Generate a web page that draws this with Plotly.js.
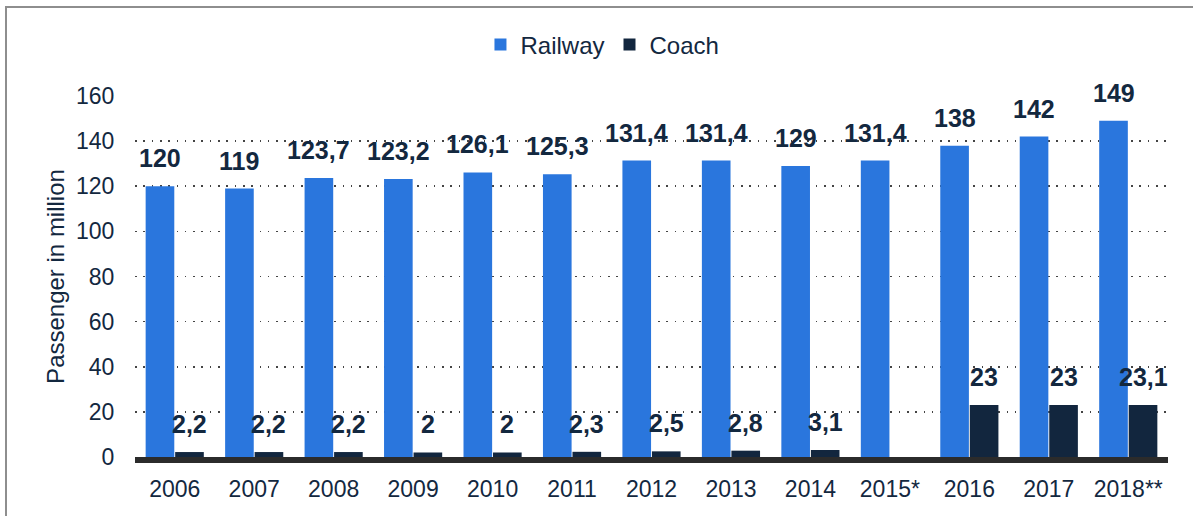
<!DOCTYPE html>
<html>
<head>
<meta charset="utf-8">
<script src="https://cdn.plot.ly/plotly-3.0.1.min.js"></script>
<style>
  html, body { margin: 0; padding: 0; background: #fff; }
  #wrap { position: relative; width: 1193px; height: 516px; overflow: hidden; }
  #chart { position: absolute; left: 0; top: 0; width: 1193px; height: 516px; }
  #frame { position: absolute; left: 5px; top: 6px; width: 1300px; height: 700px;
           border-top: 2px solid #8e8e8e; border-left: 2px solid #8e8e8e; pointer-events: none; }
</style>
</head>
<body>
<div id="wrap">
  <div id="chart"></div>
  <div id="frame"></div>
</div>
<script>
const years = ["2006","2007","2008","2009","2010","2011","2012","2013","2014","2015*","2016","2017","2018**"];
const railway = [120, 119, 123.7, 123.2, 126.1, 125.3, 131.4, 131.4, 129, 131.4, 138, 142, 149];
const coach = [2.2, 2.2, 2.2, 2, 2, 2.3, 2.5, 2.8, 3.1, null, 23, 23, 23.1];
const seriesNames = ["Railway", "Coach"];
const yTicks = [0, 20, 40, 60, 80, 100, 120, 140, 160];

const W = 1193, H = 516;
const margin = {l: 135, r: 25, t: 96, b: 59};
const bargap = 0.257;
const plotW = W - margin.l - margin.r;
const catW = plotW / years.length;
const slot = catW * (1 - bargap) / 2;
const shift = slot / 2;

const fmt = v => String(v).replace('.', ',');
const textColor = '#13283f';
const font = 'Liberation Sans, Arial, sans-serif';

const traces = [
  {type: 'bar', name: seriesNames[0], x: years, y: railway,
   marker: {color: '#2a76dd', line: {width: 0}}, hoverinfo: 'skip'},
  {type: 'bar', name: seriesNames[1], x: years, y: coach,
   marker: {color: '#12263e', line: {width: 0}}, hoverinfo: 'skip'}
];

const annotations = [];
years.forEach((yr, i) => {
  [[railway[i], -shift], [coach[i], shift]].forEach(([v, dx]) => {
    if (v === null || v === undefined) return;
    annotations.push({
      xref: 'x', yref: 'y', x: i, y: v, xshift: dx, yshift: 12,
      xanchor: 'center', yanchor: 'bottom', showarrow: false,
      text: '<b>' + fmt(v) + '</b>',
      font: {family: font, size: 25, color: textColor}
    });
  });
});

const layout = {
  width: W, height: H,
  margin: margin,
  paper_bgcolor: '#fff', plot_bgcolor: '#fff',
  barmode: 'group', bargap: bargap, bargroupgap: 0.03,
  font: {family: font, size: 23, color: textColor},
  showlegend: true,
  legend: {orientation: 'h', xref: 'container', yref: 'container',
           x: 0.505, y: 1 - 45/516, xanchor: 'center', yanchor: 'middle',
           font: {family: font, size: 24, color: textColor},
           itemwidth: 30, traceorder: 'normal', itemclick: false},
  xaxis: {type: 'category', categoryorder: 'array', categoryarray: years,
          range: [-0.5, years.length - 0.5],
          showgrid: false, zeroline: false,
          showline: true, linecolor: '#2b2b2b', linewidth: 6,
          ticks: 'outside', ticklen: 6, tickcolor: 'rgba(0,0,0,0)',
          tickfont: {family: font, size: 23, color: textColor}, fixedrange: true},
  yaxis: {range: [0, 160], tickvals: yTicks, showgrid: true,
          gridcolor: '#444', gridwidth: 1.6, griddash: '1.6px,6.7px',
          zeroline: false, showline: false,
          ticks: 'outside', ticklen: 15, tickcolor: 'rgba(0,0,0,0)',
          tickfont: {family: font, size: 23, color: textColor},
          title: {text: 'Passenger in million', standoff: 4,
                  font: {family: font, size: 24, color: textColor}},
          fixedrange: true},
  annotations: annotations
};

Plotly.newPlot('chart', traces, layout, {displayModeBar: false, staticPlot: true});
</script>
</body>
</html>
